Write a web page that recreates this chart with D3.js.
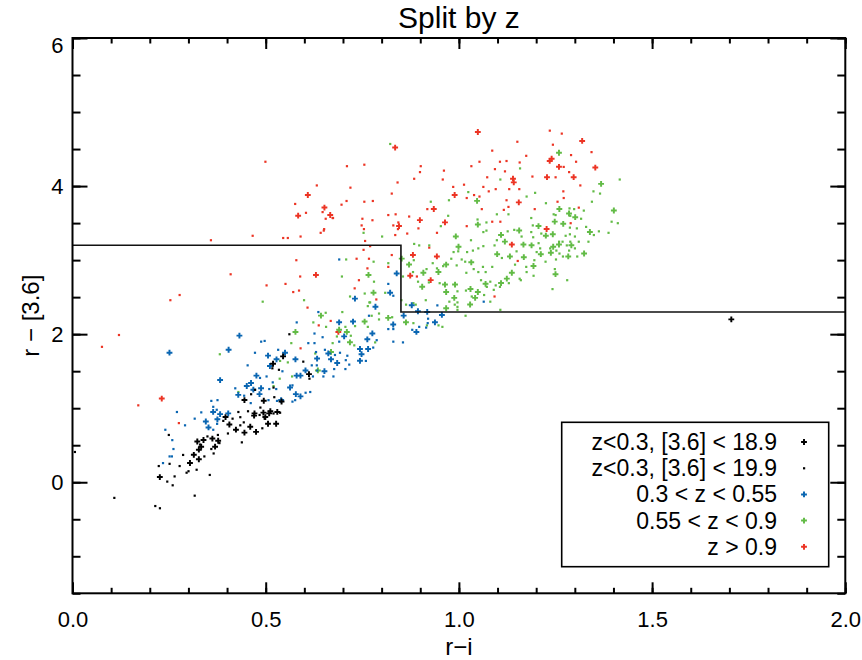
<!DOCTYPE html>
<html><head><meta charset="utf-8">
<script src="https://cdn.jsdelivr.net/npm/d3@7"></script>
<style>
html,body{margin:0;padding:0;background:#fff;}
svg{display:block;font-family:"Liberation Sans",Arial,sans-serif;}
</style></head>
<body><svg id="c" width="862" height="660"></svg>
<script>
// ---------------- data ----------------
const chartTitle = "Split by z";
const xTitle = "r\u2212i";
const yTitle = "r \u2212 [3.6]";
const xDomain = [0, 2];
const yDomain = [-1.5, 6];
const xMajorTicks = [0, 0.5, 1.0, 1.5, 2.0];
const xTickLabels = ["0.0", "0.5", "1.0", "1.5", "2.0"];
const yMajorTicks = [0, 2, 4, 6];
const yTickLabels = ["0", "2", "4", "6"];
const legendLabels = ["z<0.3, [3.6] < 18.9", "z<0.3, [3.6] < 19.9", "0.3 < z < 0.55", "0.55 < z < 0.9", "z > 0.9"];
const selectionLine = [[0, 3.2], [0.85, 3.2], [0.85, 2.3], [2.0, 2.3]];

// z<0.3, [3.6] < 18.9
const lowzBright = [[0.226,0.07],[0.304,0.26],[0.314,0.37],[0.327,0.31],[0.327,0.44],[0.323,0.55],[0.333,0.48],[0.339,0.57],[0.362,0.59],[0.369,0.48],[0.377,0.56],[0.396,0.88],[0.406,0.78],[0.423,0.71],[0.445,0.67],[0.46,0.75],[0.47,0.90],[0.475,0.68],[0.499,0.88],[0.506,0.79],[0.527,0.79],[0.471,0.93],[0.494,0.94],[0.509,0.93],[0.512,0.96],[0.53,0.95],[0.495,1.10],[0.541,1.09],[0.445,1.11],[0.545,1.70],[0.519,1.60],[0.612,1.46],[1.705,2.20]];
// z<0.3, [3.6] < 19.9
const lowzFaint = [[0.006,0.41],[0.108,-0.21],[0.214,-0.32],[0.226,-0.35],[0.316,-0.18],[0.245,0.01],[0.259,-0.04],[0.264,0.08],[0.223,0.22],[0.251,0.25],[0.277,0.22],[0.286,0.37],[0.295,0.13],[0.30,0.15],[0.321,0.17],[0.355,0.10],[0.341,0.35],[0.249,0.64],[0.33,0.51],[0.349,0.62],[0.359,0.45],[0.365,0.39],[0.38,0.53],[0.376,0.64],[0.39,0.83],[0.402,0.66],[0.414,0.86],[0.434,0.88],[0.434,0.77],[0.438,0.54],[0.443,0.81],[0.454,0.96],[0.429,0.95],[0.484,0.91],[0.491,0.73],[0.497,0.86],[0.52,0.93],[0.486,1.01],[0.537,0.94],[0.462,1.19],[0.472,1.25],[0.52,1.28],[0.522,1.15],[0.517,1.54],[0.534,1.52],[0.561,2.0],[0.597,1.63],[0.613,1.40]];
// 0.3 < z < 0.55
const midzBright = [[0.251,1.75],[0.345,0.82],[0.352,0.74],[0.375,0.85],[0.364,0.95],[0.382,0.92],[0.403,0.93],[0.432,1.98],[0.404,1.79],[0.506,1.71],[0.55,1.75],[0.528,1.66],[0.511,1.57],[0.476,1.44],[0.382,1.38],[0.462,1.34],[0.451,1.30],[0.429,1.18],[0.468,1.25],[0.488,1.27],[0.484,1.19],[0.563,1.28],[0.578,1.19],[0.59,1.16],[0.54,1.11],[0.58,1.44],[0.603,1.51],[0.59,1.44],[0.652,1.50],[0.633,1.67],[0.662,1.74],[0.577,1.66],[0.69,2.16],[0.726,2.17],[0.703,1.97],[0.776,2.01],[0.763,1.93],[0.765,1.80],[0.744,1.80],[0.748,1.73],[0.744,1.64],[0.669,1.66],[0.685,1.61],[0.83,2.13],[0.857,2.25],[0.89,2.03],[0.938,2.16],[0.956,2.26],[0.878,2.39],[0.894,2.31],[0.918,2.30],[0.784,2.37],[0.731,2.48],[0.839,2.82],[0.822,2.56]];
const midzFaint = [[0.24,0.71],[0.258,0.57],[0.261,0.45],[0.251,0.35],[0.257,0.35],[0.234,0.26],[0.27,0.95],[0.291,0.77],[0.316,0.86],[0.333,0.945],[0.364,0.71],[0.374,0.79],[0.359,1.10],[0.375,1.11],[0.364,1.02],[0.373,0.98],[0.461,1.07],[0.507,1.11],[0.529,1.10],[0.569,1.09],[0.576,1.11],[0.603,1.21],[0.615,1.22],[0.569,1.31],[0.527,1.26],[0.518,1.35],[0.509,1.26],[0.444,1.17],[0.421,1.27],[0.485,1.41],[0.502,1.43],[0.543,1.50],[0.453,1.58],[0.472,1.75],[0.488,1.90],[0.497,1.91],[0.532,1.79],[0.622,1.43],[0.633,1.51],[0.632,1.58],[0.649,1.43],[0.619,1.58],[0.653,1.79],[0.63,1.76],[0.626,1.88],[0.61,1.88],[0.647,1.96],[0.626,2.01],[0.58,2.16],[0.636,2.30],[0.69,3.01],[0.69,1.90],[0.787,1.92],[0.778,1.82],[0.759,1.64],[0.711,1.71],[0.692,1.75],[0.679,1.72],[0.707,1.65],[0.706,1.53],[0.716,1.59],[0.677,1.53],[0.675,1.43],[0.83,2.07],[0.817,2.07],[0.83,1.90],[0.855,1.89],[0.879,2.06],[0.897,2.10],[0.915,2.09],[0.919,2.15],[0.944,2.39],[0.767,2.25],[0.817,2.68],[0.83,2.52],[0.92,2.21],[1.064,2.44]];
// 0.55 < z < 0.9
const hizBright = [[0.643,2.25],[0.577,2.03],[0.635,1.51],[0.817,2.22],[0.756,2.17],[0.69,2.06],[0.71,2.03],[0.718,1.89],[0.669,1.76],[0.863,2.16],[0.967,2.35],[1.029,2.40],[1.259,4.45],[1.368,4.03],[1.047,3.80],[1.26,3.69],[1.285,3.63],[1.401,3.67],[1.248,3.52],[1.27,3.49],[1.301,3.58],[1.339,3.38],[1.324,3.09],[1.283,3.05],[1.291,3.20],[1.259,3.21],[1.244,3.18],[1.238,3.10],[1.243,3.35],[1.225,3.33],[1.206,3.46],[1.188,3.20],[1.212,3.08],[1.193,2.92],[1.25,2.81],[1.168,3.04],[1.132,3.05],[1.137,2.83],[1.124,2.75],[1.109,2.69],[1.156,3.40],[1.167,3.21],[1.109,3.34],[1.119,3.25],[1.099,3.08],[1.069,2.68],[1.049,2.57],[1.042,2.49],[1.03,2.61],[1.032,2.97],[1.049,3.48],[0.999,3.18],[0.992,3.32],[0.967,2.94],[0.947,2.84],[0.871,2.94],[0.852,3.02],[0.908,2.83],[0.905,2.64],[0.964,2.67],[0.967,2.57],[0.99,2.67],[0.988,2.49],[0.766,2.80],[0.779,2.56]];
const hizFaint = [[0.492,2.44],[0.623,2.16],[0.566,1.88],[0.557,1.62],[0.537,1.64],[0.381,1.73],[0.628,1.74],[0.536,1.40],[0.568,1.43],[0.52,1.30],[0.429,1.22],[0.656,2.10],[0.655,2.29],[0.599,2.46],[0.768,2.43],[0.764,2.38],[0.793,2.28],[0.827,2.23],[0.793,2.20],[0.764,2.10],[0.774,2.25],[0.698,2.30],[0.706,2.10],[0.684,1.97],[0.673,1.88],[0.729,1.85],[0.731,2.11],[0.783,1.89],[0.72,1.98],[0.882,2.15],[0.917,2.12],[0.947,2.12],[0.957,2.10],[1.017,2.25],[0.863,2.40],[0.888,2.40],[0.989,2.40],[0.996,2.33],[0.851,2.46],[1.107,2.33],[0.718,2.51],[0.822,4.57],[1.158,4.24],[1.416,4.09],[1.348,3.93],[1.365,3.90],[1.344,3.79],[1.107,4.09],[1.024,3.92],[1.175,3.86],[0.974,3.81],[0.927,3.79],[1.225,3.77],[1.286,3.70],[1.298,3.69],[1.323,3.67],[1.25,3.61],[1.316,3.56],[1.288,3.60],[1.245,3.62],[1.287,3.44],[1.305,3.43],[1.329,3.45],[1.362,3.39],[1.349,3.34],[1.335,3.25],[1.395,3.52],[1.411,3.50],[1.387,3.37],[1.306,3.05],[1.269,3.05],[1.279,3.20],[1.268,3.25],[1.285,3.13],[1.252,3.13],[1.26,3.09],[1.251,3.01],[1.213,3.36],[1.191,3.47],[1.192,3.31],[1.206,3.23],[1.201,3.11],[1.195,3.00],[1.224,2.98],[1.248,2.88],[1.242,2.61],[1.28,2.73],[1.174,2.91],[1.175,2.84],[1.16,2.73],[1.145,2.94],[1.129,2.69],[1.106,2.64],[1.149,3.12],[1.143,3.41],[1.162,3.32],[1.187,3.57],[1.126,3.39],[1.098,3.27],[1.092,3.20],[1.111,3.03],[1.086,2.91],[1.062,2.91],[1.069,2.84],[1.05,2.84],[1.057,2.73],[1.09,2.60],[1.065,2.53],[1.033,2.51],[1.018,2.59],[1.019,2.83],[1.007,3.01],[1.021,3.11],[1.038,2.88],[1.05,3.16],[1.063,3.19],[1.071,3.40],[1.031,3.27],[0.998,3.12],[0.986,3.11],[0.994,2.93],[0.98,3.02],[0.959,2.92],[0.943,2.89],[0.932,2.96],[0.916,2.88],[0.897,3.20],[0.884,3.22],[0.923,3.20],[0.883,3.00],[0.881,2.84],[0.855,2.78],[0.894,2.71],[0.922,2.70],[0.914,2.46],[0.95,2.69],[0.996,2.58],[0.975,2.44],[0.996,2.43],[0.972,3.60],[0.953,3.46],[0.801,3.32],[0.753,3.37],[0.779,2.98],[0.78,2.71],[0.756,2.55],[0.77,2.43],[0.697,2.78],[0.708,3.01],[0.817,2.96],[0.809,2.56],[0.882,2.42],[1.30,3.32],[1.276,3.33],[1.287,3.35],[1.31,3.25],[1.197,3.91],[1.048,3.55],[1.098,3.62],[1.128,3.62],[1.071,3.51],[1.063,3.38],[1.187,3.38],[1.259,3.25],[1.288,3.25],[1.30,3.16],[1.236,3.16],[1.21,3.16],[1.016,2.98],[1.036,3.13],[0.996,2.37],[1.081,2.44],[1.072,2.64],[1.081,2.71],[1.095,2.66],[1.157,2.75],[1.193,2.79]];
// z > 0.9
const vhizBright = [[0.231,1.13],[0.63,2.80],[0.609,3.88],[0.652,3.71],[0.584,3.60],[0.667,3.61],[1.049,4.73],[1.319,4.61],[0.835,4.52],[1.235,4.34],[1.24,4.37],[1.259,4.26],[1.353,4.25],[1.14,4.10],[1.142,4.05],[1.228,4.12],[1.297,4.12],[0.989,3.88],[0.845,3.46],[0.899,3.54],[0.935,3.69],[0.964,3.51],[0.881,3.07],[0.943,3.05],[0.874,2.79],[0.927,2.73],[1.155,3.78],[1.227,3.42],[1.137,3.21],[0.688,2.03]];
const vhizFaint = [[0.17,1.04],[0.275,0.80],[0.253,2.46],[0.277,2.53],[0.12,1.99],[0.076,1.83],[0.608,2.36],[0.637,2.12],[0.59,1.81],[0.358,3.27],[0.466,3.33],[0.545,3.30],[0.557,3.30],[0.59,3.32],[0.642,3.37],[0.65,3.40],[0.579,3.0],[0.409,2.81],[0.589,2.78],[0.502,2.66],[0.551,2.68],[0.571,2.57],[0.586,2.59],[0.499,4.33],[0.632,4.01],[0.576,3.76],[0.647,3.65],[0.604,3.64],[0.655,3.56],[0.674,3.57],[0.651,3.42],[0.668,2.18],[1.235,4.75],[1.266,4.71],[1.151,4.60],[1.243,4.56],[1.086,4.48],[1.174,4.41],[1.29,4.42],[1.343,4.46],[1.271,4.26],[1.303,4.33],[1.285,4.19],[1.106,4.33],[1.123,4.34],[1.053,4.33],[1.032,4.27],[1.093,4.23],[1.119,4.20],[1.157,4.32],[1.19,4.13],[1.25,4.12],[1.314,4.01],[1.27,3.93],[1.156,3.96],[1.13,3.96],[1.095,3.96],[1.073,4.12],[1.063,3.99],[1.077,3.93],[1.053,3.86],[1.039,3.88],[1.02,3.84],[1.013,4.02],[0.985,3.99],[0.961,4.21],[0.958,4.09],[0.901,4.27],[0.899,4.19],[0.884,4.10],[0.841,4.05],[0.826,3.90],[0.755,4.29],[0.71,4.27],[0.719,3.98],[0.709,3.80],[0.696,3.75],[0.755,3.79],[0.777,3.80],[0.673,3.57],[0.75,3.56],[0.776,3.54],[0.748,3.47],[0.754,3.42],[0.817,3.61],[0.836,3.62],[0.83,3.47],[0.843,3.51],[0.842,3.42],[0.871,3.59],[0.895,3.43],[0.918,3.69],[0.943,3.37],[0.835,3.34],[0.866,3.36],[0.757,3.26],[0.77,3.19],[0.753,3.14],[0.735,3.02],[0.767,3.02],[0.763,2.89],[0.741,2.73],[0.73,2.62],[0.786,2.47],[0.817,2.91],[0.826,3.07],[0.923,3.17],[0.891,2.78],[1.02,3.46],[1.086,3.52],[1.107,3.52],[1.116,3.68],[1.128,3.72],[1.059,3.69],[1.123,3.81],[1.196,3.69],[1.152,2.99],[1.092,2.51],[1.289,3.50],[1.31,3.71],[1.255,3.79],[1.271,3.84]];

// ---------------- drawing ----------------
const FONT = "'Liberation Sans', Arial, sans-serif";
const colors = {lowz: "#000000", midz: "#0a66b2", hiz: "#62bb46", vhiz: "#ec3424"};
const svg = d3.select("#c");
const L = 72.5, R = 845.3, T = 38, B = 593.3;
const x = d3.scaleLinear().domain(xDomain).range([L, R]);
const y = d3.scaleLinear().domain(yDomain).range([B, T]);

const bigSym = d3.symbol().type(d3.symbolCross).size(19)();
function drawSet(data, color, big) {
  const g = svg.append("g");
  if (big) {
    g.selectAll("path").data(data).join("path")
      .attr("d", bigSym)
      .attr("transform", d => `translate(${x(d[0])},${y(d[1])})`)
      .attr("fill", color);
  } else {
    g.selectAll("rect").data(data).join("rect")
      .attr("x", d => x(d[0]) - 1).attr("y", d => y(d[1]) - 1)
      .attr("width", 2.2).attr("height", 2.2).attr("fill", color);
  }
}
drawSet(vhizFaint, colors.vhiz, false);
drawSet(vhizBright, colors.vhiz, true);
drawSet(hizFaint, colors.hiz, false);
drawSet(hizBright, colors.hiz, true);
drawSet(midzFaint, colors.midz, false);
drawSet(midzBright, colors.midz, true);
drawSet(lowzFaint, colors.lowz, false);
drawSet(lowzBright, colors.lowz, true);

// selection line
svg.append("path")
  .attr("d", d3.line().x(d => x(d[0])).y(d => y(d[1]))(selectionLine))
  .attr("fill", "none").attr("stroke", "#111").attr("stroke-width", 1.6);

// axes
const xMinor = d3.range(0, 2.0001, 0.1).map(v => +v.toFixed(2));
const yMinor = d3.range(-1.5, 6.0001, 0.5).map(v => +v.toFixed(2));
function styleAxis(sel) {
  sel.select(".domain").remove();
  sel.selectAll("line").attr("stroke", "#000").attr("stroke-width", 2);
  sel.selectAll("text").attr("fill", "#000").attr("font-size", 22).attr("font-family", FONT);
}
// bottom
svg.append("g").attr("transform", `translate(0,${B})`)
  .call(d3.axisBottom(x).tickValues(xMinor).tickSize(-5.5).tickFormat("")).call(styleAxis);
svg.append("g").attr("transform", `translate(0,${B})`)
  .call(d3.axisBottom(x).tickValues(xMajorTicks).tickSize(-11).tickPadding(18)
    .tickFormat((d, i) => xTickLabels[i])).call(styleAxis);
// top
svg.append("g").attr("transform", `translate(0,${T})`)
  .call(d3.axisTop(x).tickValues(xMinor).tickSize(-5.5).tickFormat("")).call(styleAxis);
svg.append("g").attr("transform", `translate(0,${T})`)
  .call(d3.axisTop(x).tickValues(xMajorTicks).tickSize(-11).tickFormat("")).call(styleAxis);
// left
svg.append("g").attr("transform", `translate(${L},0)`)
  .call(d3.axisLeft(y).tickValues(yMinor).tickSize(-8).tickFormat("")).call(styleAxis);
const yl = svg.append("g").attr("transform", `translate(${L},0)`)
  .call(d3.axisLeft(y).tickValues(yMajorTicks).tickSize(-15).tickPadding(9)
    .tickFormat((d, i) => yTickLabels[i])).call(styleAxis);
yl.selectAll(".tick").filter(d => d === yDomain[1]).select("text").attr("dy", "0.68em");
// right
svg.append("g").attr("transform", `translate(${R},0)`)
  .call(d3.axisRight(y).tickValues(yMinor).tickSize(-8).tickFormat("")).call(styleAxis);
svg.append("g").attr("transform", `translate(${R},0)`)
  .call(d3.axisRight(y).tickValues(yMajorTicks).tickSize(-15).tickFormat("")).call(styleAxis);

// frame
svg.append("rect").attr("x", L).attr("y", T).attr("width", R - L).attr("height", B - T)
  .attr("fill", "none").attr("stroke", "#000").attr("stroke-width", 2);

// legend
const lg = svg.append("g");
lg.append("rect").attr("x", 561.7).attr("y", 422.3).attr("width", 267).attr("height", 144.4)
  .attr("fill", "#fff").attr("stroke", "#000").attr("stroke-width", 1.6);
const legendColors = [colors.lowz, colors.lowz, colors.midz, colors.hiz, colors.vhiz];
const legendBig = [true, false, true, true, true];
legendLabels.forEach((lab, i) => {
  const cy = 442 + i * 26.2;
  lg.append("text").attr("x", 777).attr("y", cy + 8).attr("text-anchor", "end")
    .attr("font-size", 23).attr("font-family", FONT).text(lab);
  if (legendBig[i]) {
    lg.append("path").attr("d", bigSym).attr("transform", `translate(804,${cy})`).attr("fill", legendColors[i]);
  } else {
    lg.append("rect").attr("x", 803).attr("y", cy - 1).attr("width", 2.2).attr("height", 2.2).attr("fill", legendColors[i]);
  }
});

// titles
svg.append("text").attr("x", (L + R) / 2).attr("y", 28).attr("text-anchor", "middle")
  .attr("font-size", 30).attr("font-family", FONT).text(chartTitle);
svg.append("text").attr("x", (L + R) / 2).attr("y", 655).attr("text-anchor", "middle")
  .attr("font-size", 24).attr("font-family", FONT).text(xTitle);
svg.append("text").attr("transform", `translate(39,${(T + B) / 2}) rotate(-90)`)
  .attr("text-anchor", "middle").attr("font-size", 24).attr("font-family", FONT).text(yTitle);
</script></body></html>
